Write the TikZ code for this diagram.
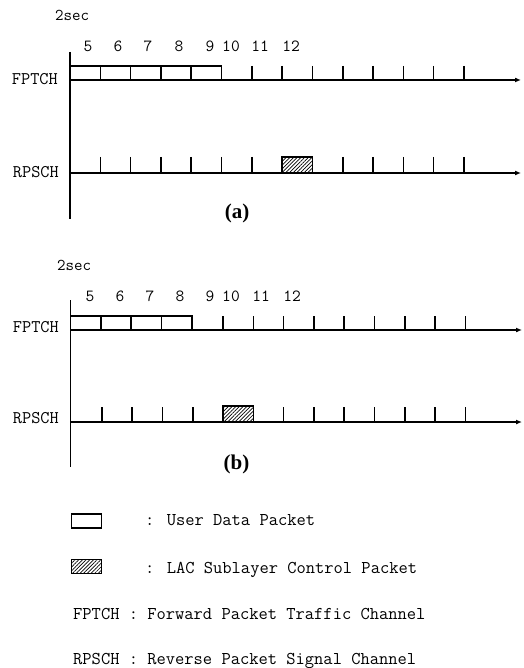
\documentclass[tikz,border=0pt]{standalone}
\usepackage{fontspec}
\newfontfamily\serf{Liberation Serif}
\usetikzlibrary{arrows.meta,patterns.meta}
\begin{document}
\begin{tikzpicture}[x=1pt,y=-1pt,
  axisln/.style={line width=1.6pt},
  chan/.style={line width=1.6pt,-{Latex[length=6pt,width=5pt]}},
  tickln/.style={line width=1.6pt},
  upkt/.style={draw,line width=1.6pt,fill=white},
  cpkt/.style={draw,line width=1.6pt,pattern={Lines[angle=45,distance=2.6pt,line width=0.7pt]}},
  mono/.style={font=\ttfamily\fontsize{18}{20}\selectfont,inner sep=0pt},
  chmono/.style={font=\ttfamily\fontsize{17.8}{20}\selectfont,inner sep=0pt},
  num/.style={font=\ttfamily\fontsize{17}{19}\selectfont,inner sep=0pt,anchor=base},
  secl/.style={font=\ttfamily\fontsize{16.5}{18}\selectfont,inner sep=0pt,anchor=base west},
  chl/.style={chmono,anchor=base east},
  figcap/.style={font=\serf\bfseries\fontsize{21}{24}\selectfont,inner sep=0pt}]
\useasboundingbox (0,0) rectangle (523,668);
\def\dx{30.3}
% ---------------- (a) ----------------
\node[secl] (sa) at (55,21) {2sec};
\foreach \n/\xx in {5/88,6/118,7/148,8/179,9/210,10/231,11/260,12/291}
  \node[num] (na\n) at (\xx,52) {\n};
\draw[axisln] (70,52) -- (70,219);
\node[chl] (fa) at (58,85) {FPTCH};
\node[chl] (ra) at (59,178) {RPSCH};
\coordinate (fa0) at (70,80); \coordinate (fa1) at (521,80);
\coordinate (ra0) at (70,173); \coordinate (ra1) at (521,173);
\draw[chan] (fa0) -- (fa1);
\draw[chan] (ra0) -- (ra1);
\foreach \k in {0,...,4}
  \draw[upkt] (70+\k*\dx,66) rectangle (70+\k*\dx+\dx,80);
\foreach \k in {6,...,13}
  \draw[tickln] (70+\k*\dx,66) -- (70+\k*\dx,80);
\foreach \k in {1,...,6,9,10,11,12,13}
  \draw[tickln] (70+\k*\dx,157) -- (70+\k*\dx,173);
\draw[cpkt] (70+7*\dx,157) rectangle (70+8*\dx,173);
\node[figcap] (capa) at (237,213) {(a)};
% ---------------- (b) ----------------
\node[secl] (sb) at (57,270) {2sec};
\foreach \n/\xx in {5/90,6/120,7/150,8/180,9/210,10/231,11/261,12/292}
  \node[num] (nb\n) at (\xx,301) {\n};
\draw[axisln] (70.5,300) -- (70.5,467);
\node[chl] (fb) at (59,332) {FPTCH};
\node[chl] (rb) at (59,423) {RPSCH};
\coordinate (fb0) at (70.5,330); \coordinate (fb1) at (522,330);
\coordinate (rb0) at (70.5,422); \coordinate (rb1) at (522,422);
\draw[chan] (fb0) -- (fb1);
\draw[chan] (rb0) -- (rb1);
\foreach \k in {0,...,3}
  \draw[upkt] (70.5+\k*\dx,316) rectangle (70.5+\k*\dx+\dx,330);
\foreach \k in {5,...,13}
  \draw[tickln] (71.5+\k*\dx,316) -- (71.5+\k*\dx,330);
\foreach \k in {1,...,4,7,8,9,10,11,12,13}
  \draw[tickln] (71.5+\k*\dx,407) -- (71.5+\k*\dx,422);
\draw[cpkt] (71.5+5*\dx,406) rectangle (71.5+6*\dx,422);
\node[figcap] (capb) at (236.5,464) {(b)};
% ---------------- legend ----------------
\node[upkt,minimum width=30pt,minimum height=14pt,inner sep=0pt] (lu) at (86.5,521) {};
\node[mono,anchor=base west] (lut) at (145,525.5) {: User Data Packet};
\node[cpkt,minimum width=30pt,minimum height=14pt,inner sep=0pt] (lc) at (86.5,566.5) {};
\node[mono,anchor=base west] (lct) at (145,573.5) {: LAC Sublayer Control Packet};
\node[mono,anchor=base west] (lf) at (73,619.5) {FPTCH : Forward Packet Traffic Channel};
\node[mono,anchor=base west] (lr) at (73,664.5) {RPSCH : Reverse Packet Signal Channel};
\end{tikzpicture}
\end{document}
